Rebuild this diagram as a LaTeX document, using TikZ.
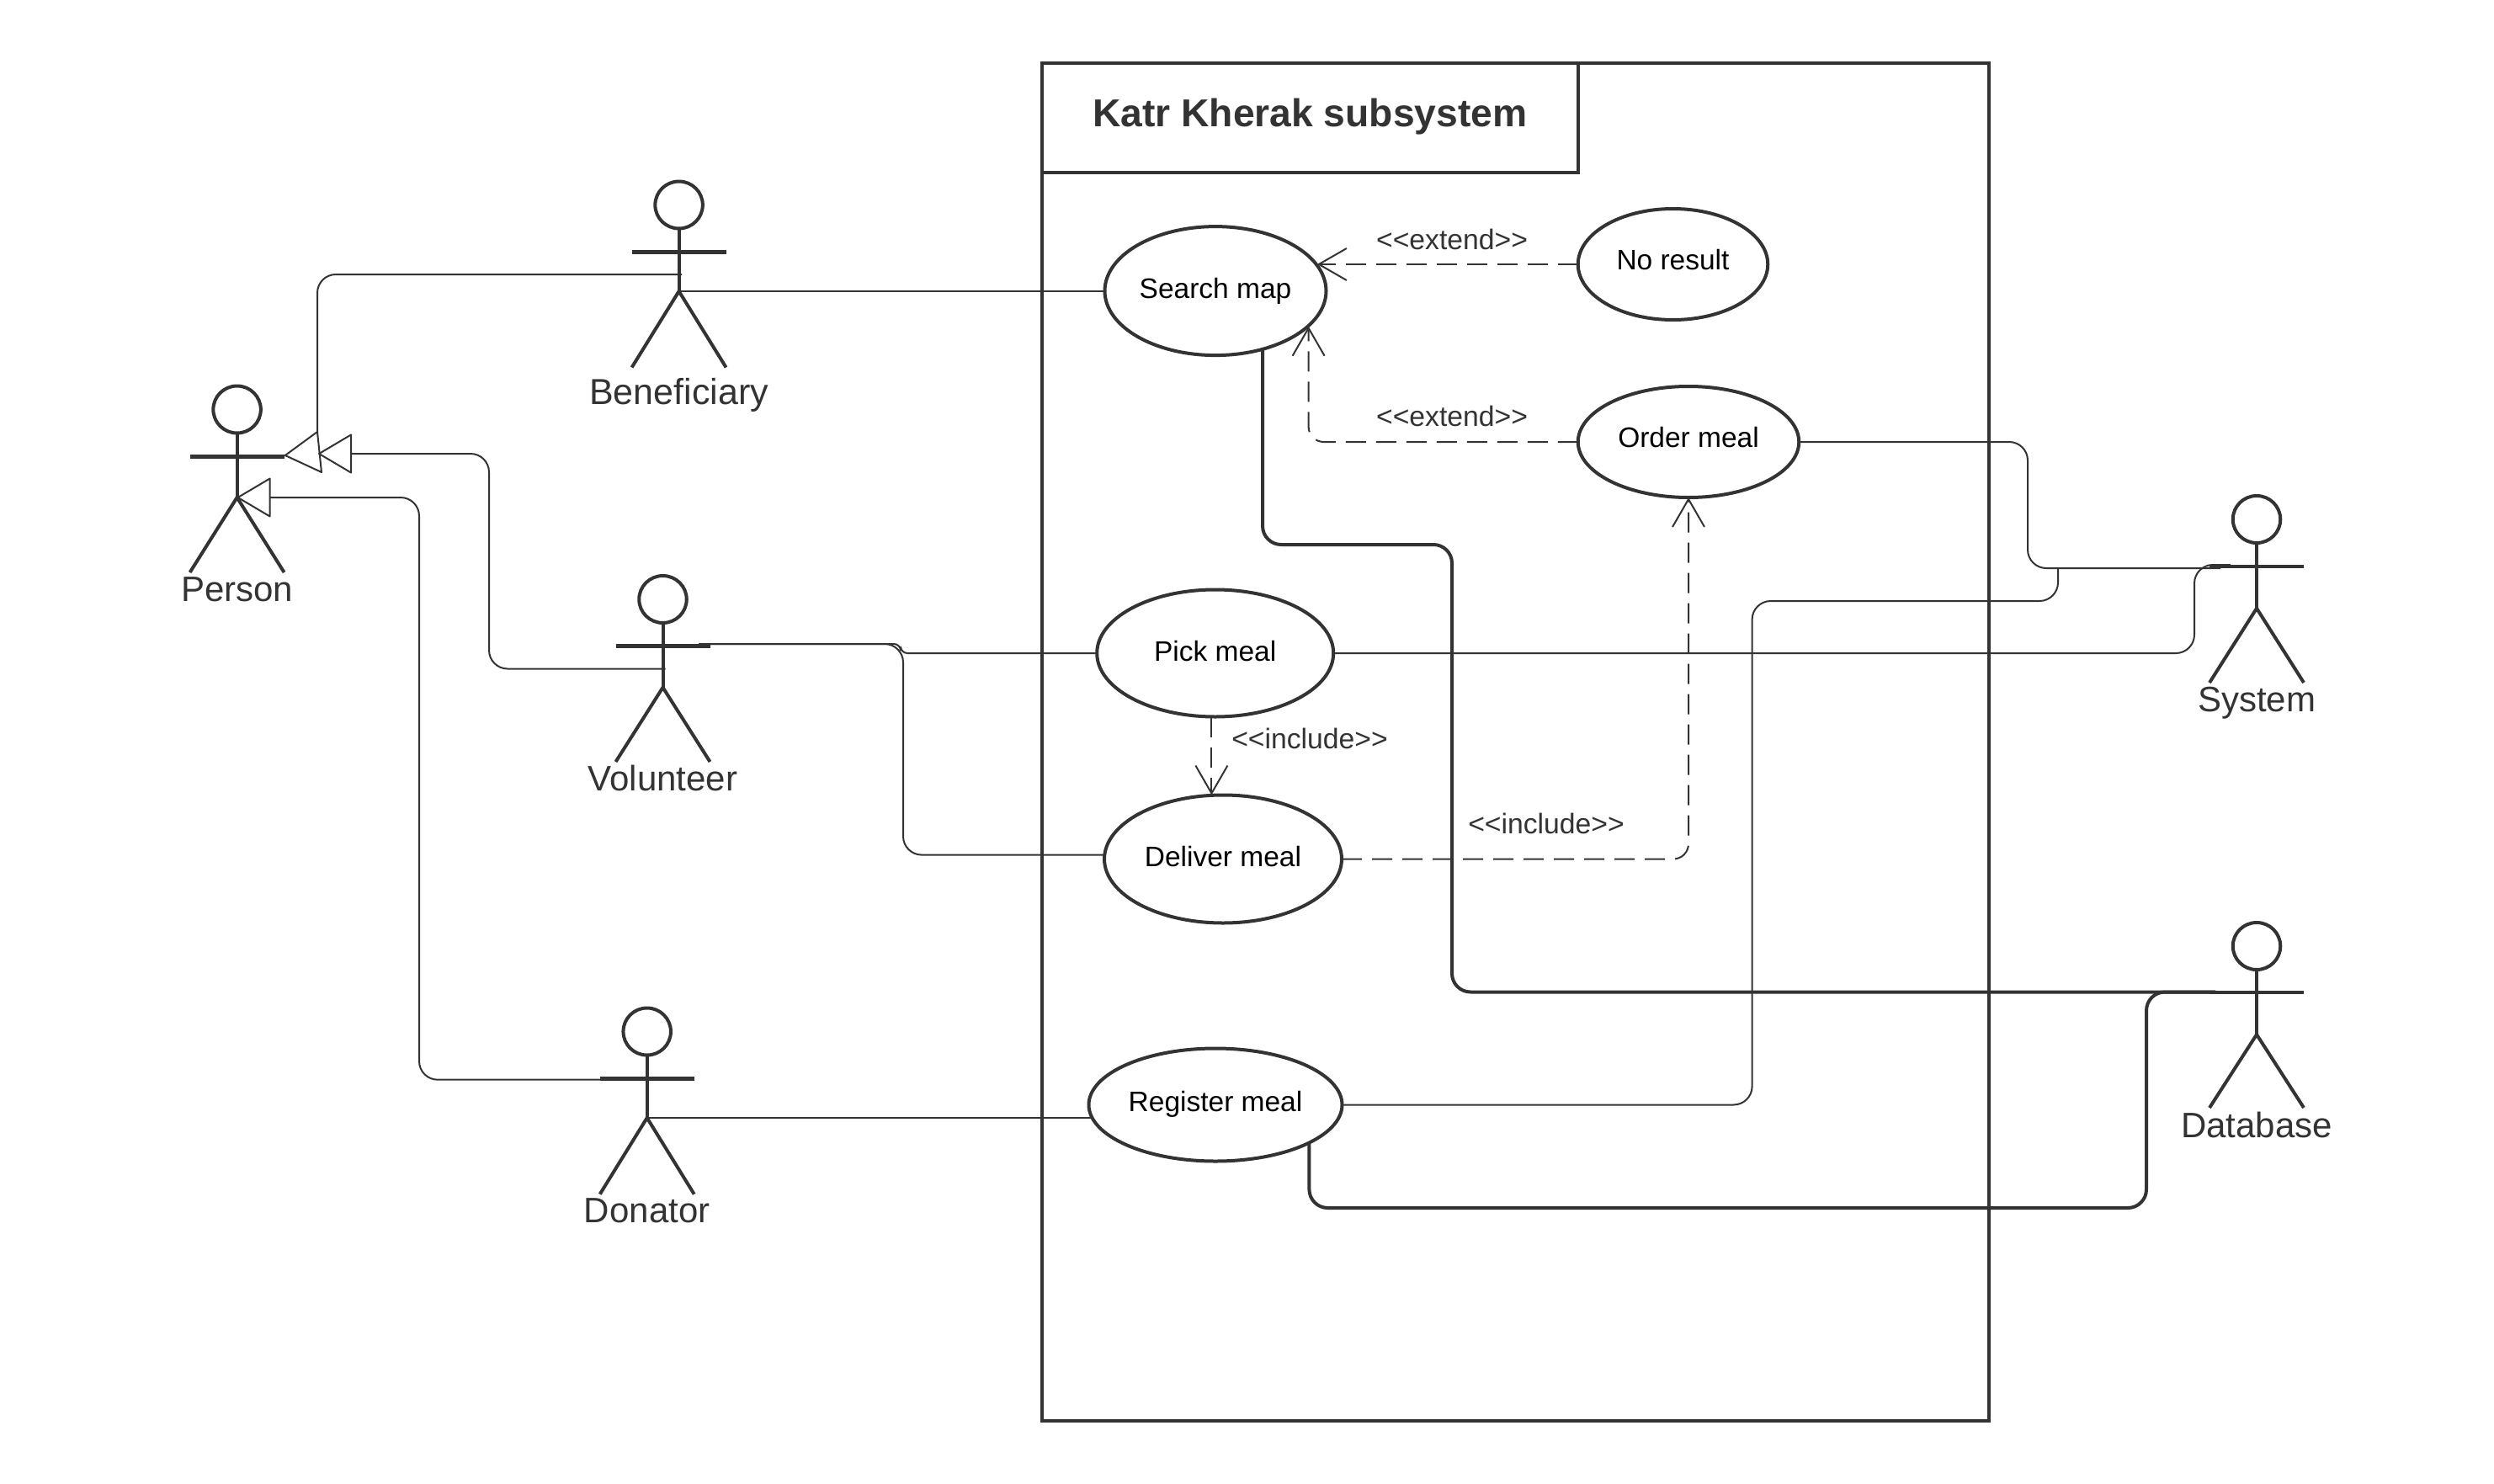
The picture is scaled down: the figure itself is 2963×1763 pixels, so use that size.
\documentclass[tikz,border=0pt]{standalone}
\usepackage{fontspec}
\setmainfont{Liberation Sans}
\usetikzlibrary{shapes.geometric,arrows.meta}
\definecolor{ink}{HTML}{333333}
\tikzset{
  actorline/.style={draw=ink,line width=4pt},
  actorname/.style={anchor=base,text=ink,inner sep=0pt,font=\fontsize{42}{50}\selectfont},
  ucase/.style={ellipse,draw=ink,line width=4pt,inner sep=0pt,outer sep=0pt,text=black,
    font=\fontsize{33.5}{40}\selectfont,text height=24pt,text depth=#1},
  stereo/.style={anchor=base,text=ink,inner sep=0pt,font=\fontsize{33.7}{40}\selectfont},
  assoc/.style={draw=ink,line width=2pt,rounded corners=22pt},
  heavy/.style={draw=ink,line width=4pt,rounded corners=22pt},
  depend/.style={draw=ink,line width=2pt,dash pattern=on 24pt off 12pt,rounded corners=18pt,
    -{Straight Barb[length=33pt,width=38pt,line width=2pt]}},
  general/.style={draw=ink,line width=2pt,rounded corners=22pt,
    -{Triangle[open,length=41pt,width=48pt,line width=2pt,round]}},
}
% name, cx, head cy, arm y, hip y, feet y, arm width, label, label baseline
\newcommand\umlactor[9]{%
  \node[ellipse,draw=ink,line width=4pt,minimum width=56.5pt,minimum height=56pt,inner sep=0pt,outer sep=0pt] (#1-head) at (#2,#3) {};
  \coordinate (#1-hip) at (#2,#5);
  \coordinate (#1-larm) at ({#2-56},#4);
  \coordinate (#1-rarm) at ({#2+56},#4);
  \draw[actorline] (#1-head.south) -- (#1-hip);
  \draw[actorline,line width=#7] (#1-larm) -- (#1-rarm);
  \draw[actorline] ({#2-56},#6) -- (#1-hip) -- ({#2+56},#6);
  \node[actorname] (#1-name) at (#2,#9) {#8};
}
\begin{document}
\begin{tikzpicture}[x=1pt,y=-1pt]
\useasboundingbox (0,0) rectangle (2963,1763);

% system boundary
\node[draw=ink,line width=4pt,minimum width=1125.4pt,minimum height=1613pt,anchor=north west,inner sep=0pt,outer sep=0pt] (frame) at (1237.6,75) {};
\node[draw=ink,line width=4pt,minimum width=637.4pt,minimum height=130pt,anchor=north west,inner sep=0pt,outer sep=0pt,
  text=ink,font=\fontsize{46.2}{55}\selectfont\bfseries,text height=33pt,text depth=12pt] (title) at (1237.6,75) {Katr Kherak subsystem};

% actors
\umlactor{person}{281.6}{486.5}{542}{591}{680}{5pt}{Person}{714}
\umlactor{ben}{806.6}{243.5}{299}{346}{436.5}{5pt}{\fontsize{43}{50}\selectfont Beneficiary}{480}
\umlactor{vol}{787.5}{712}{767.6}{816.7}{905}{5pt}{Volunteer}{939}
\umlactor{don}{768.7}{1225.5}{1281}{1328}{1418.7}{5pt}{Donator}{1452}
\umlactor{sys}{2681}{617}{672.8}{722.7}{811}{3.5pt}{System}{845}
\umlactor{db}{2681}{1124}{1179}{1229}{1316}{3.5pt}{Database}{1351}

% use cases
\node[ucase=7.2pt,minimum width=263pt,minimum height=153pt] (search) at (1444,345.6) {Search map};
\node[ucase=11pt,minimum width=225.5pt,minimum height=132pt] (noresult) at (1987.5,314) {No result};
\node[ucase=12pt,minimum width=262.5pt,minimum height=132pt] (order) at (2006,525) {Order meal};
\node[ucase=6pt,minimum width=281pt,minimum height=151pt] (pick) at (1443.7,776) {Pick meal};
\node[ucase=7pt,minimum width=282pt,minimum height=152pt] (deliver) at (1453,1020.5) {Deliver meal};
\node[ucase=9pt,minimum width=301pt,minimum height=134pt] (register) at (1444,1312.5) {Register meal};

% stereotype labels
\node[stereo] (ext1) at (1725,296) {<{}<extend>{}>};
\node[stereo] (ext2) at (1725,506) {<{}<extend>{}>};
\node[stereo] (inc1) at (1556,889) {<{}<include>{}>};
\node[stereo] (inc2) at (1837,990) {<{}<include>{}>};

% generalisations
\coordinate (benG) at (810,326);
\coordinate (t1top) at (377,513);
\coordinate (t1tip) at (338.8,541);
\coordinate (t1bot) at (382,561);
\draw[assoc] (benG) -- (377,326) -- (t1top);
\draw[draw=ink,line width=2pt,line join=round] (t1top) -- (t1tip) -- (t1bot) -- cycle;
\coordinate (volG) at (790.5,794.5);
\coordinate (t2tip) at (378,539);
\draw[general] (volG) -- (581,794.5) -- (581,539) -- (t2tip);
\coordinate (donG) at (718.6,1282.7);
\draw[general] (donG) -- (498,1282.7) -- (498,591) -- (person-hip);

% associations
\draw[assoc] (ben-hip) -- (ben-hip -| search.west);
\coordinate (volA) at (830,765);
\draw[assoc,rounded corners=8pt] (volA) -- (1070,765) -- (1070,776) -- (pick.west);
\coordinate (delW) at (deliver.178.9);
\draw[assoc] (volA) -- (1073,765) -- (1073,0 |- delW) -- (delW);
\draw[assoc] (don-hip) -- (don-hip -| register.186);
\coordinate (sysA) at (2638,675);
\coordinate (sysB) at (2650,671);
\draw[assoc] (order.east) -- (2409,525) -- (2409,675) -- (sysA);
\draw[assoc] (register.east) -- (2081.6,1312.5) -- (2081.6,714) -- (2445,714) -- (2445,675);
\draw[assoc] (pick.east) -- (2607,776) -- (2607,671) -- (sysB);
\coordinate (dbA) at (2632,1178.5);
\draw[heavy] (search.-51) -- (search.-51 |- 0,647) -- (1725,647) -- (1725,1178.5) -- (dbA);
\draw[heavy] (register.-22) -- (register.-22 |- 0,1435) -- (2550,1435) -- (2550,1178.5) -- (dbA);

% dependencies
\draw[depend] (noresult.west) -- (noresult.west -| search.14.4);
\draw[depend] (order.west) -- (1554.6,525) -- (1554.6,0 |- search.-21.8);
\coordinate (pdx) at (1439.4,0);
\draw[depend,rounded corners=0pt] (pdx |- pick.south) -- (pdx |- deliver.north);
\draw[depend] (deliver.east) -- (order.south |- deliver.east) -- (order.south);
\end{tikzpicture}
\end{document}
